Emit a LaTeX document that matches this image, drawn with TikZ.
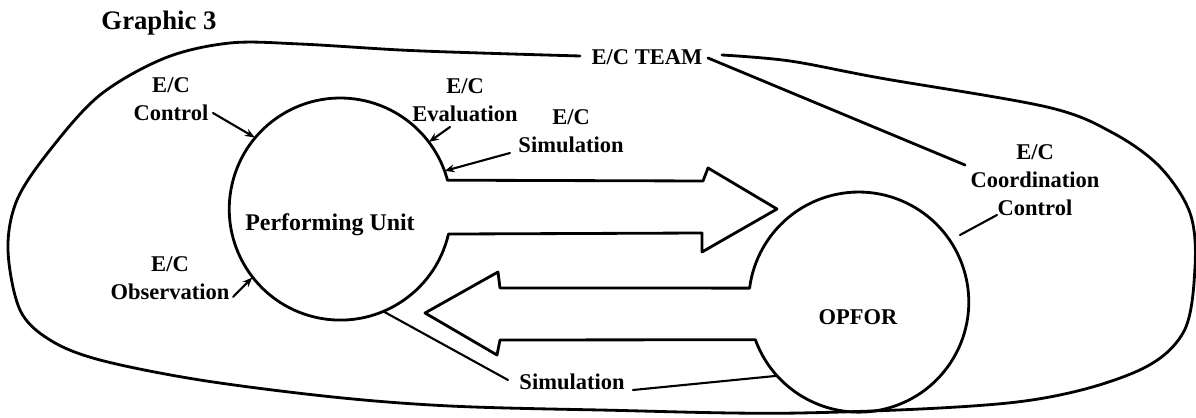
\documentclass[tikz,border=0pt]{standalone}
\usepackage{fontspec}
\setmainfont{Liberation Serif}
\usetikzlibrary{arrows.meta}
\begin{document}
\begin{tikzpicture}[x=0.025cm,y=0.025cm,
  outl/.style={line width=2pt, line join=round, line cap=round},
  lead/.style={line width=1.5pt, line cap=round},
  leadarr/.style={lead, -{Stealth[length=7pt,width=5.5pt]}},
  lbl/.style={font=\fontsize{16}{20}\selectfont\bfseries, align=center, inner sep=1pt},
  ring/.style={circle, inner sep=0pt, draw=none}]
\useasboundingbox (0,0) rectangle (1196,-418);
\fill[white] (0,0) rectangle (1196,-418);
% circle placeholders
\node[ring, minimum size=5.55cm] (PU) at (340,-209) {};
\node[ring, minimum size=5.5cm] (OP) at (859,-302) {};
% performing unit with outgoing arrow
\draw[outl] (PU.15) -- (703,-181) -- (708,-168) -- (777,-209) -- (702,-252) -- (702,-233) -- (PU.347)
  arc[start angle=-13, end angle=-345, radius=2.775cm];
% OPFOR with returning arrow
\draw[outl] (OP.200) arc[start angle=200, end angle=532.7, radius=2.75cm]
  -- (500,-288) -- (498,-272) -- (425,-313) -- (497,-355) -- (500,-340) -- cycle;
% outer E/C team loop
\draw[outl] plot[smooth, tension=0.55] coordinates {
  (580,-56) (480,-53) (400,-50) (300,-44) (230,-43) (165,-58) (100,-95) (50,-150)
  (17,-200) (8,-250) (20,-310) (50,-340) (100,-360) (200,-380) (333,-397) (450,-406)
  (600,-410) (800,-413) (1017,-402) (1133,-373) (1183,-333) (1195,-267) (1190,-213)
  (1160,-167) (1113,-133) (1047,-107) (880,-78) (790,-61) (722,-55)};
% labels
\node[lbl, font=\fontsize{19}{22}\selectfont\bfseries] (title) at (159,-23) {Graphic 3};
\node[lbl] (team) at (647,-57) {E/C TEAM};
\node[lbl] (ctl) at (171,-99) {E/C\\Control};
\node[lbl] (eval) at (465,-100) {E/C\\Evaluation};
\node[lbl] (esim) at (571,-131) {E/C\\Simulation};
\node[lbl] (obs) at (170,-278) {E/C\\Observation};
\node[lbl] (coord) at (1035,-180) {E/C\\Coordination\\Control};
\node[lbl, font=\fontsize{17}{20}\selectfont\bfseries] (pulbl) at (330,-225) {Performing Unit};
\node[lbl] (oplbl) at (858,-317) {OPFOR};
\node[lbl] (sim) at (572,-382) {Simulation};
% leaders
\coordinate (ctlA) at (213,-113);
\coordinate (evalA) at (450,-127);
\coordinate (esimA) at (510,-153);
\coordinate (obsA) at (233,-297);
\coordinate (simA) at (508,-380);
\coordinate (simB) at (633,-390);
\coordinate (coA) at (997,-215);
\coordinate (coB) at (960,-235);
\coordinate (teamA) at (708,-58);
\coordinate (teamB) at (965,-165);
\draw[leadarr] (ctlA) -- (PU.140);
\draw[leadarr] (evalA) -- (PU.37);
\draw[leadarr] (esimA) -- (PU.20);
\draw[leadarr] (obsA) -- (PU.218);
\draw[lead] (simA) -- (PU.293);
\draw[lead] (simB) -- (OP.222);
\draw[lead] (coA) -- (coB);
\draw[outl] (teamA) -- (teamB);
\end{tikzpicture}
\end{document}
